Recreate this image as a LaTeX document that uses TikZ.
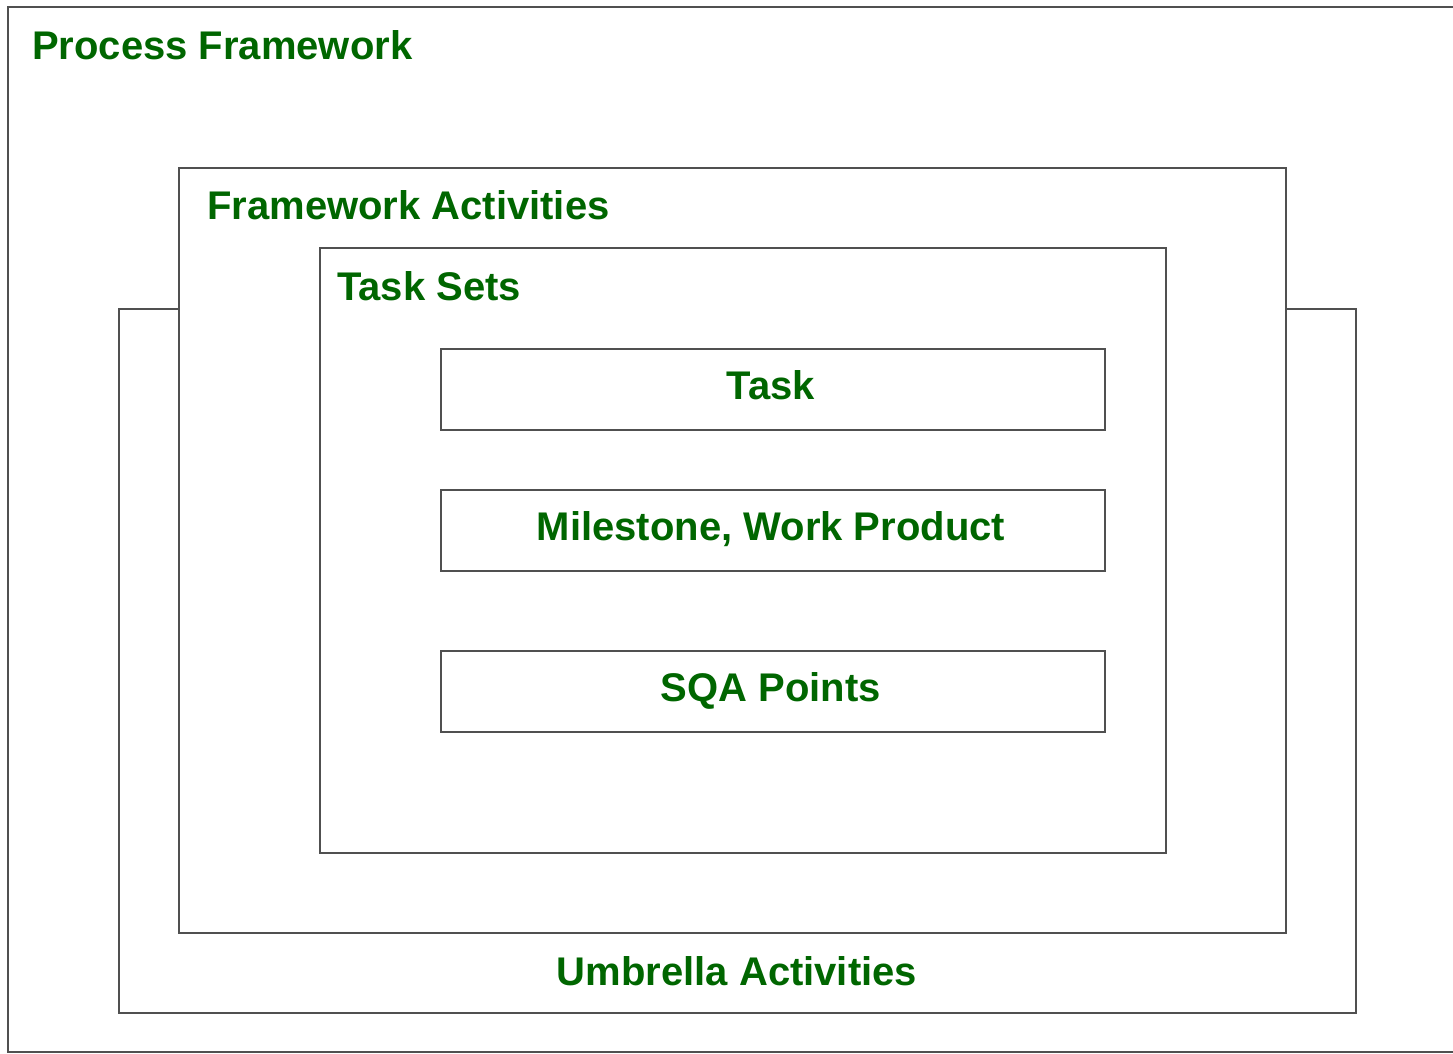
\documentclass[tikz,border=0pt]{standalone}
\usepackage{fontspec}
\setmainfont{Liberation Sans}
\definecolor{lbl}{HTML}{006600}
\definecolor{edge}{HTML}{505050}
\begin{document}
\begin{tikzpicture}[x=1pt,y=-1pt,
  box/.style={draw=edge,line width=1.6pt,fill=white,rectangle,inner sep=0,anchor=north west},
  lab/.style={text=lbl,font=\fontsize{40}{46}\selectfont\bfseries,inner sep=0}]
\useasboundingbox (0,0) rectangle (1453,1053);
\begin{scope}
\clip (0,0) rectangle (1453,1053);
\node[box,minimum width=1470pt,minimum height=1045pt] (pf) at (7,6) {};
\end{scope}
\node[box,minimum width=1237pt,minimum height=704pt] (umb) at (118,308) {};
\node[box,minimum width=1107pt,minimum height=765pt] (fa) at (178,167) {};
\node[box,minimum width=846pt,minimum height=605pt] (ts) at (319,247) {};
\node[box,minimum width=664pt,minimum height=81pt] (task) at (440,348) {};
\node[box,minimum width=664pt,minimum height=81pt] (ms) at (440,489) {};
\node[box,minimum width=664pt,minimum height=81pt] (sqa) at (440,650) {};
\node[lab,anchor=base west] (pft) at (32,59) {Process Framework};
\node[lab,anchor=base west] (fat) at (207,219) {Framework Activities};
\node[lab,anchor=base west] (tst) at (337,300) {Task Sets};
\node[lab,anchor=base] (taskt) at (771,399) {Task};
\node[lab,anchor=base] (mst) at (771,540) {Milestone, Work Product};
\node[lab,anchor=base] (sqat) at (771,701) {SQA Points};
\node[lab,anchor=base] (umbt) at (737,985) {Umbrella Activities};
\end{tikzpicture}
\end{document}
